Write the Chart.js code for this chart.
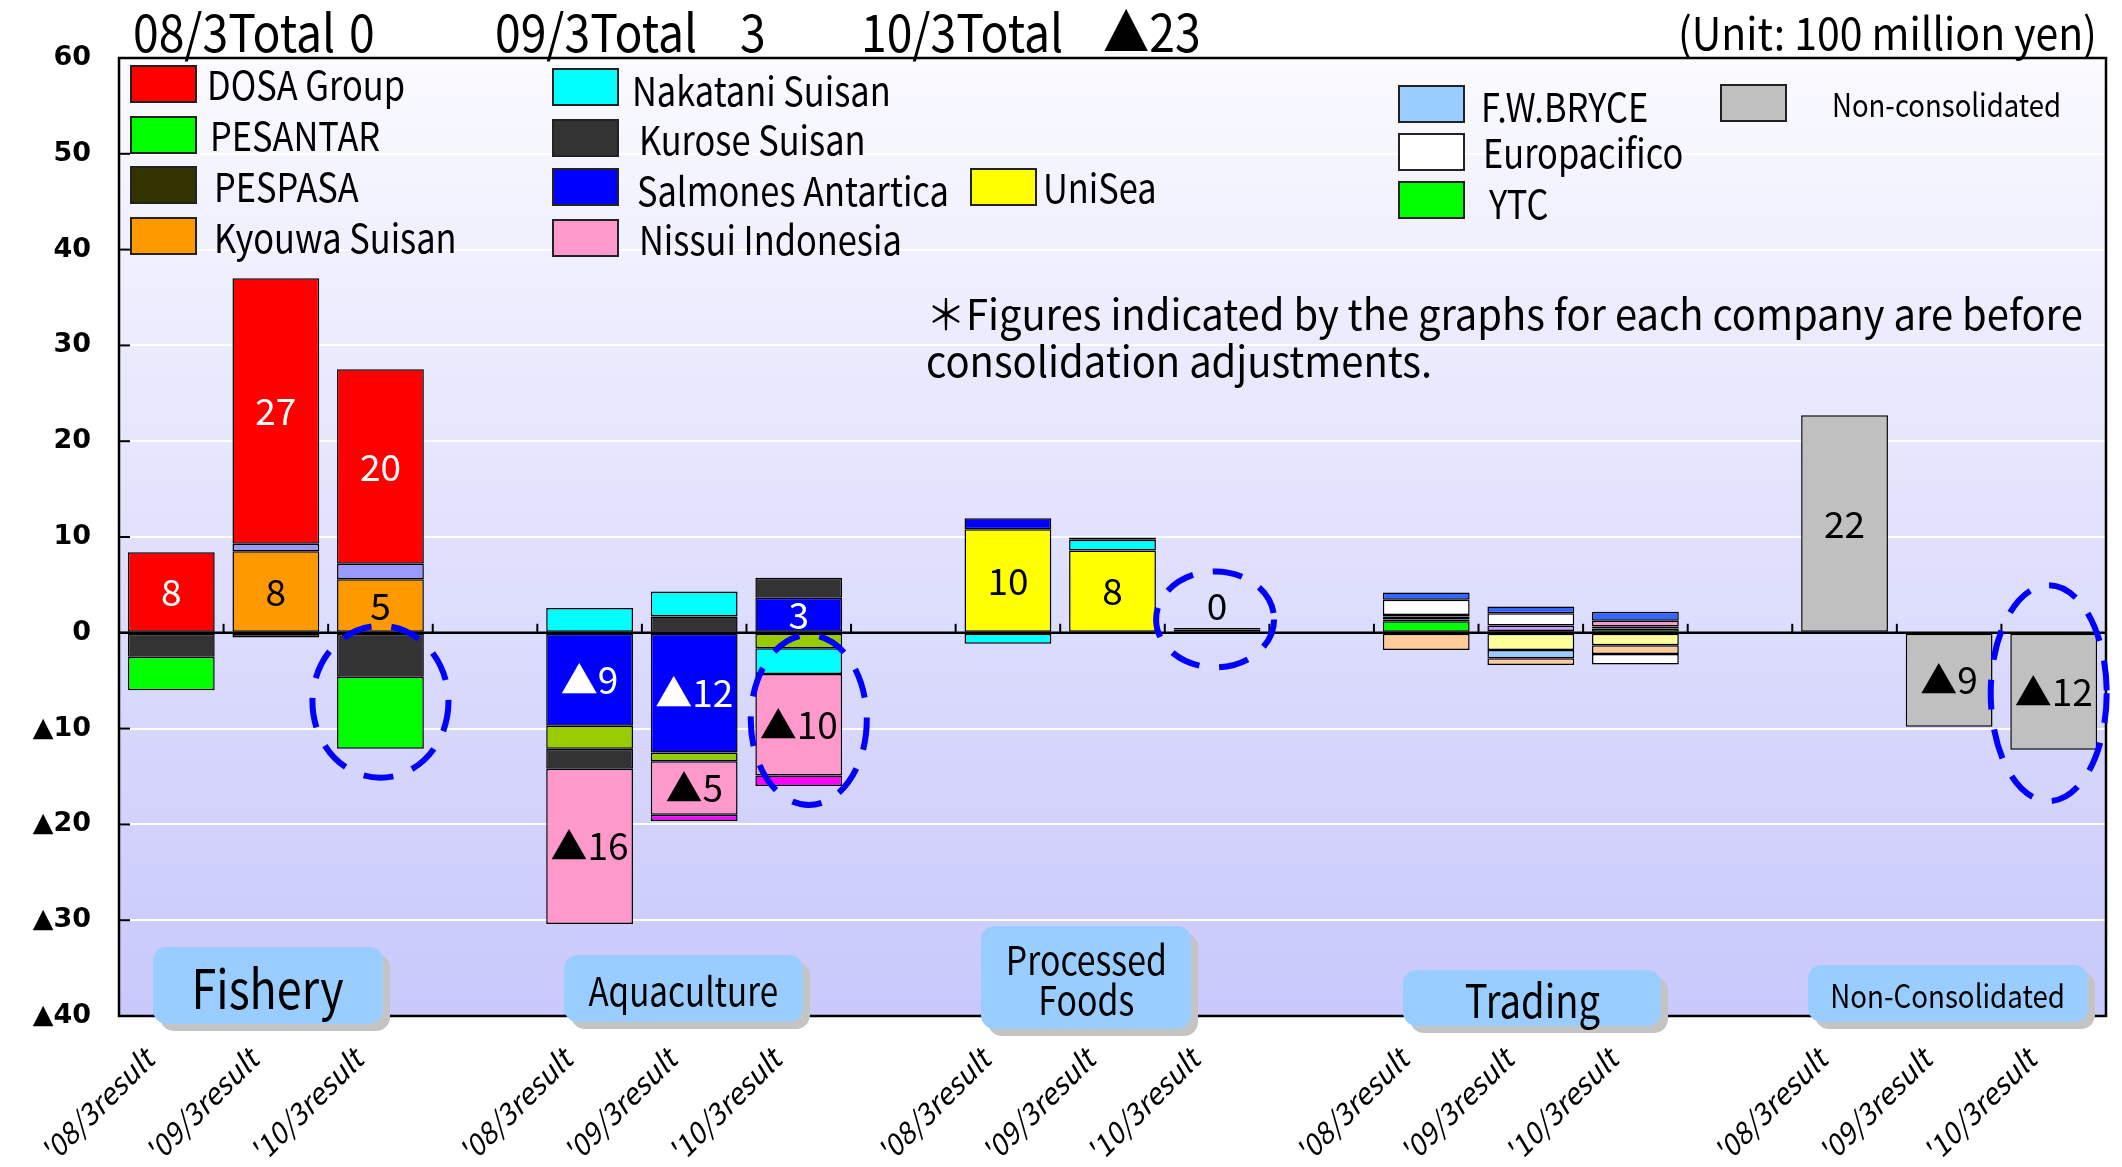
<!DOCTYPE html>
<html>
<head>
<meta charset="utf-8">
<script src="https://cdn.jsdelivr.net/npm/chart.js@4.4.1/dist/chart.umd.min.js"></script>
<style>
html, body { margin: 0; padding: 0; background: #fff; }
#wrap { position: relative; width: 2122px; height: 1167px; overflow: hidden; font-family: "Noto Sans CJK JP", sans-serif; color: #000; }
#chart { position: absolute; left: 0; top: 0; }
.txt { position: absolute; white-space: nowrap; line-height: 1; transform-origin: 0 50%; }
.sw { position: absolute; box-sizing: border-box; border: 2px solid #222; }
.cat { position: absolute; box-sizing: border-box; background: #99ccff; border-radius: 14px; box-shadow: 7px 7px 0 #c4c4c4;
       display: flex; align-items: center; justify-content: center; text-align: center; line-height: 1; }
.cat span { display: inline-block; white-space: nowrap; }
</style>
</head>
<body>
<div id="wrap">
  <canvas id="chart" width="2122" height="1167"></canvas>
</div>
<script>
// x slots: 3 years per segment, one empty slot between segments
const xLabels = [
  "'08/3result", "'09/3result", "'10/3result", "",
  "'08/3result", "'09/3result", "'10/3result", "",
  "'08/3result", "'09/3result", "'10/3result", "",
  "'08/3result", "'09/3result", "'10/3result", "",
  "'08/3result", "'09/3result", "'10/3result"
];
const groupNames = ["Fishery", "Aquaculture", "Processed<br>Foods", "Trading", "Non-Consolidated"];

// values in 100 million yen, ['08, '09, '10] for each company
// Fishery
const kyouwaSuisan = [null, 8.5, 5.6];
const fisheryOther = [null, 0.8, 1.6];
const dosaGroup = [8.4, 27.7, 20.3];
const pespasa = [-2.5, -0.5, -4.6];
const pesantar = [-3.5, null, -7.5];
// Aquaculture
const salmonesAntartica = [-9.7, -12.5, 3.65];
const aquaOther1 = [-2.4, -0.9, -1.6];
const kuroseSuisan = [-2.1, 1.7, 2.1];
const nakataniSuisan = [2.6, 2.6, -2.7];
const nissuiIndonesia = [-16.2, -5.6, -10.6];
const aquaOther2 = [null, -0.65, -1.1];
// Processed foods
const uniSea = [10.8, 8.6, 0.35];
const foodsCyan = [-1.15, 1.1, null];
const foodsBlue = [1.15, null, null];
const foodsDark = [null, 0.25, 0.15];
// Trading
const ytc = [1.2, null, 0.45];
const tradeDark1 = [0.2, 0.2, 0.2];
const tradeYellow = [null, -1.8, -1.3];
const fwBryce = [0.3, -0.85, null];
const tradeDark2 = [0.15, null, null];
const tradePeach = [-1.8, -0.7, -0.9];
const tradeLavender = [null, 0.55, null];
const tradePink = [null, null, 0.6];
const europacifico = [1.6, 1.3, -1.1];
const tradeBlue = [0.75, 0.7, 0.95];
// Non-consolidated
const nonConsolidated = [22.7, -9.8, -12.2];

// stacking order = dataset order (positives upward, negatives downward)
const series = [
  { key: "kyouwa", group: 0, values: kyouwaSuisan, color: "#ff9900" },
  { key: "fishOther", group: 0, values: fisheryOther, color: "#9999ff" },
  { key: "dosa", group: 0, values: dosaGroup, color: "#ff0000" },
  { key: "pespasa", group: 0, values: pespasa, color: "#333333" },
  { key: "pesantar", group: 0, values: pesantar, color: "#00ff00" },
  { key: "salmones", group: 1, values: salmonesAntartica, color: "#0000ff" },
  { key: "aquaOther1", group: 1, values: aquaOther1, color: "#99cc00" },
  { key: "kurose", group: 1, values: kuroseSuisan, color: "#333333" },
  { key: "nakatani", group: 1, values: nakataniSuisan, color: "#00ffff" },
  { key: "nissuiIndonesia", group: 1, values: nissuiIndonesia, color: "#ff99cc" },
  { key: "aquaOther2", group: 1, values: aquaOther2, color: "#ff00ff" },
  { key: "uniSea", group: 2, values: uniSea, color: "#ffff00" },
  { key: "foodsCyan", group: 2, values: foodsCyan, color: "#00ffff" },
  { key: "foodsBlue", group: 2, values: foodsBlue, color: "#0000ff" },
  { key: "foodsDark", group: 2, values: foodsDark, color: "#333333" },
  { key: "ytc", group: 3, values: ytc, color: "#00ff00" },
  { key: "tradeDark1", group: 3, values: tradeDark1, color: "#333333" },
  { key: "tradeYellow", group: 3, values: tradeYellow, color: "#ffff99" },
  { key: "fwBryce", group: 3, values: fwBryce, color: "#99ccff" },
  { key: "tradeDark2", group: 3, values: tradeDark2, color: "#333333" },
  { key: "tradePeach", group: 3, values: tradePeach, color: "#ffcc99" },
  { key: "tradeLavender", group: 3, values: tradeLavender, color: "#cc99ff" },
  { key: "tradePink", group: 3, values: tradePink, color: "#ff99cc" },
  { key: "europacifico", group: 3, values: europacifico, color: "#ffffff" },
  { key: "tradeBlue", group: 3, values: tradeBlue, color: "#3366ff" },
  { key: "nonCons", group: 4, values: nonConsolidated, color: "#c0c0c0" }
];

// numbers written on the bars
const valueLabels = [
  { key: "dosa", pos: 0, text: "8", color: "#fff" },
  { key: "dosa", pos: 1, text: "27", color: "#fff" },
  { key: "dosa", pos: 2, text: "20", color: "#fff" },
  { key: "kyouwa", pos: 1, text: "8", color: "#000" },
  { key: "kyouwa", pos: 2, text: "5", color: "#000" },
  { key: "salmones", pos: 0, text: "▲9", color: "#fff" },
  { key: "salmones", pos: 1, text: "▲12", color: "#fff" },
  { key: "salmones", pos: 2, text: "3", color: "#fff" },
  { key: "nissuiIndonesia", pos: 0, text: "▲16", color: "#000" },
  { key: "nissuiIndonesia", pos: 1, text: "▲5", color: "#000" },
  { key: "nissuiIndonesia", pos: 2, text: "▲10", color: "#000" },
  { key: "uniSea", pos: 0, text: "10", color: "#000" },
  { key: "uniSea", pos: 1, text: "8", color: "#000" },
  { key: "uniSea", pos: 2, text: "0", color: "#000", above: true },
  { key: "nonCons", pos: 0, text: "22", color: "#000" },
  { key: "nonCons", pos: 1, text: "▲9", color: "#000" },
  { key: "nonCons", pos: 2, text: "▲12", color: "#000" }
];

// dashed circles: slot, centre value, pixel nudge and radii
const highlights = [
  { slot: 2, value: -7.2, dx: 0, rx: 68, ry: 76 },
  { slot: 6, value: -9.1, dx: 10, rx: 58, ry: 85 },
  { slot: 10, value: 1.4, dx: -2, rx: 59, ry: 48 },
  { slot: 18, value: -6.3, dx: -5, rx: 58, ry: 108 }
];

const legendItems = [
  { name: "DOSA Group", color: "#ff0000", sx: 130, sy: 65, tx: 207, ty: 84 },
  { name: "PESANTAR", color: "#00ff00", sx: 130, sy: 116, tx: 210, ty: 135 },
  { name: "PESPASA", color: "#333300", sx: 130, sy: 166, tx: 214, ty: 186 },
  { name: "Kyouwa Suisan", color: "#ff9900", sx: 130, sy: 217, tx: 214, ty: 237 },
  { name: "Nakatani Suisan", color: "#00ffff", sx: 552, sy: 68, tx: 632, ty: 90 },
  { name: "Kurose Suisan", color: "#333333", sx: 552, sy: 119, tx: 639, ty: 139 },
  { name: "Salmones Antartica", color: "#0000ff", sx: 552, sy: 168, tx: 637, ty: 190 },
  { name: "Nissui Indonesia", color: "#ff99cc", sx: 552, sy: 219, tx: 639, ty: 239 },
  { name: "UniSea", color: "#ffff00", sx: 970, sy: 168, tx: 1043, ty: 187 },
  { name: "F.W.BRYCE", color: "#99ccff", sx: 1398, sy: 85, tx: 1481, ty: 106 },
  { name: "Europacifico", color: "#ffffff", sx: 1398, sy: 133, tx: 1483, ty: 152 },
  { name: "YTC", color: "#00ff00", sx: 1398, sy: 181, tx: 1489, ty: 203 },
  { name: "Non-consolidated", color: "#c0c0c0", sx: 1720, sy: 84, tx: 1832, ty: 104, small: true }
];

const wrap = document.getElementById("wrap");

function addText(text, x, yc, size, sx) {
  const d = document.createElement("div");
  d.className = "txt";
  d.innerHTML = text;
  d.style.left = x + "px";
  d.style.top = (yc - 0.52 * size) + "px";
  d.style.fontSize = size + "px";
  if (sx) d.style.transform = "scaleX(" + sx + ")";
  wrap.appendChild(d);
}

const datasets = series.map(s => {
  const data = xLabels.map(() => null);
  s.values.forEach((v, i) => { data[s.group * 4 + i] = v; });
  return {
    label: s.key,
    data: data,
    backgroundColor: s.color,
    borderColor: "#000",
    borderWidth: 1.5,
    borderSkipped: false,
    categoryPercentage: 1,
    barPercentage: 0.83
  };
});

const plotBackground = {
  id: "plotBackground",
  beforeDraw(chart) {
    const { ctx, chartArea: a } = chart;
    const g = ctx.createLinearGradient(0, a.top, 0, a.bottom);
    g.addColorStop(0, "#fafaff");
    g.addColorStop(1, "#c8c8fb");
    ctx.save();
    ctx.fillStyle = g;
    ctx.fillRect(a.left, a.top, a.right - a.left, a.bottom - a.top);
    ctx.restore();
  }
};

const decorations = {
  id: "decorations",
  afterDatasetsDraw(chart) {
    const { ctx, chartArea: a, scales: { x, y } } = chart;
    const y0 = y.getPixelForValue(0);
    ctx.save();
    ctx.strokeStyle = "#000";

    // zero line with small ticks between slots
    ctx.lineWidth = 2.5;
    ctx.beginPath(); ctx.moveTo(a.left, y0); ctx.lineTo(a.right, y0); ctx.stroke();
    ctx.lineWidth = 2;
    for (let i = 1; i < xLabels.length; i++) {
      const bx = (x.getPixelForValue(i - 1) + x.getPixelForValue(i)) / 2;
      ctx.beginPath(); ctx.moveTo(bx, y0); ctx.lineTo(bx, y0 - 9); ctx.stroke();
    }
    // y ticks inside the plot
    y.ticks.forEach(t => {
      const py = y.getPixelForValue(t.value);
      ctx.beginPath(); ctx.moveTo(a.left, py); ctx.lineTo(a.left + 11, py); ctx.stroke();
    });
    // frame
    ctx.lineWidth = 2.5;
    ctx.strokeRect(a.left, a.top, a.right - a.left, a.bottom - a.top);

    // numbers on bars
    ctx.font = '37px "Noto Sans CJK JP"';
    ctx.textAlign = "center";
    ctx.textBaseline = "middle";
    valueLabels.forEach(l => {
      const idx = series.findIndex(s => s.key === l.key);
      const slot = series[idx].group * 4 + l.pos;
      const el = chart.getDatasetMeta(idx).data[slot];
      const cy = l.above ? Math.min(el.y, el.base) - 24 : (el.y + el.base) / 2;
      ctx.fillStyle = l.color;
      ctx.fillText(l.text, el.x, cy);
    });

    // dashed highlight circles
    ctx.strokeStyle = "#0000ff";
    ctx.lineWidth = 6;
    ctx.setLineDash([30, 20]);
    highlights.forEach(h => {
      ctx.beginPath();
      ctx.ellipse(x.getPixelForValue(h.slot) + h.dx, y.getPixelForValue(h.value), h.rx, h.ry, 0, 0, Math.PI * 2);
      ctx.stroke();
    });
    ctx.restore();
  }
};

new Chart(document.getElementById("chart"), {
  type: "bar",
  data: { labels: xLabels, datasets: datasets },
  options: {
    responsive: false,
    animation: false,
    devicePixelRatio: 1,
    layout: { padding: { left: 0, right: 16, top: 58, bottom: 0 } },
    plugins: { legend: { display: false }, tooltip: { enabled: false } },
    scales: {
      x: {
        stacked: true,
        grid: { display: false },
        border: { display: false },
        ticks: {
          autoSkip: false, maxRotation: 45, minRotation: 45, padding: -5, color: "#000",
          font: { family: "Noto Sans CJK JP", size: 29, style: "italic" },
          // trailing spaces move the rotated text down-left, under its bar
          callback(v) { const t = this.getLabelForValue(v); return t ? t + "     " : ""; }
        },
        afterFit(s) { s.height = 151; }
      },
      y: {
        stacked: true,
        min: -40, max: 60,
        grid: { color: "#ffffff", lineWidth: 2, drawTicks: false },
        border: { display: false },
        ticks: {
          stepSize: 10, padding: 28, color: "#000",
          font: { family: "DejaVu Sans", size: 27, weight: "bold" },
          callback: v => v < 0 ? "▲" + (-v) : String(v)
        },
        afterFit(s) { s.width = 119; }
      }
    }
  },
  plugins: [plotBackground, decorations]
});

// title line
addText("08/3Total", 133, 31, 52, 0.89);
addText("0", 349, 31, 52, 0.89);
addText("09/3Total", 495, 31, 52, 0.89);
addText("3", 740, 31, 52, 0.89);
addText("10/3Total", 861, 31, 52, 0.89);
addText("▲23", 1103, 31, 52, 0.89);
addText("(Unit: 100 million yen)", 1678, 31, 45, 0.91);

// legend
legendItems.forEach(l => {
  const sw = document.createElement("div");
  sw.className = "sw";
  sw.style.left = l.sx + "px";
  sw.style.top = l.sy + "px";
  sw.style.width = "67px";
  sw.style.height = "38px";
  sw.style.background = l.color;
  wrap.appendChild(sw);
  addText(l.name, l.tx, l.ty, l.small ? 32 : 40, 0.86);
});

// note
addText("＊Figures indicated by the graphs for each company are before", 926, 313, 42, 0.95);
addText("consolidation adjustments.", 926, 360, 42, 0.95);

// segment name boxes
const catBoxes = [
  { left: 153, top: 947, w: 230, h: 77, size: 54, sx: 0.83 },
  { left: 564, top: 955, w: 239, h: 67, size: 40, sx: 0.83 },
  { left: 981, top: 926, w: 210, h: 103, size: 40, sx: 0.845 },
  { left: 1403, top: 970, w: 258, h: 56, size: 46, sx: 0.83 },
  { left: 1808, top: 965, w: 280, h: 57, size: 32, sx: 0.865 }
];
catBoxes.forEach((b, i) => {
  const d = document.createElement("div");
  d.className = "cat";
  d.style.left = b.left + "px";
  d.style.top = b.top + "px";
  d.style.width = b.w + "px";
  d.style.height = b.h + "px";
  d.style.fontSize = b.size + "px";
  const sp = document.createElement("span");
  sp.innerHTML = groupNames[i];
  sp.style.transform = "scaleX(" + b.sx + ")";
  d.appendChild(sp);
  wrap.appendChild(d);
});
</script>
</body>
</html>
